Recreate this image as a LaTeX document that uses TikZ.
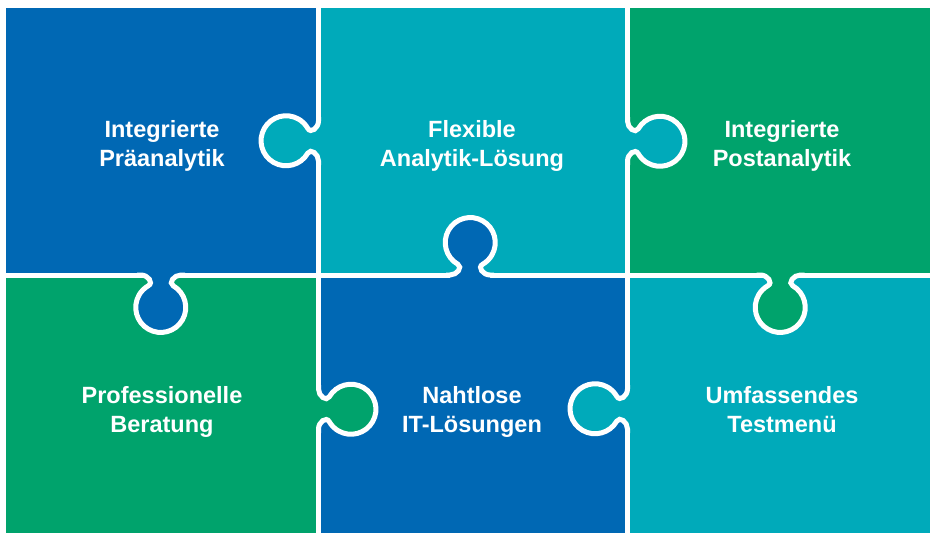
\documentclass[tikz,border=0pt]{standalone}
\usepackage{fontspec}
\setmainfont{Liberation Sans}
\usepackage{tikz}

\definecolor{pblue}{RGB}{0,104,180}
\definecolor{pteal}{RGB}{0,170,186}
\definecolor{pgreen}{RGB}{0,163,108}

% knob: seam point, direction it points to, colour of the piece it belongs to
\newcommand\knob[4]{%
  \begin{scope}[shift={(#1,#2)}, rotate=#3]
    \fill[#4] (-3,-20) -- (0,-20) .. controls (0,-13) and (7.8,-7.05) .. (10.8,-12.25)
      arc[start angle=-150, end angle=150, radius=25]
      .. controls (7.8,7.05) and (0,13) .. (0,20) -- (-3,20) -- cycle;
    \draw[seamline] (0,-24) -- (0,-20) .. controls (0,-13) and (7.8,-7.05) .. (10.8,-12.25)
      arc[start angle=-150, end angle=150, radius=25]
      .. controls (7.8,7.05) and (0,13) .. (0,20) -- (0,24);
  \end{scope}}

\begin{document}
\begin{tikzpicture}[x=1pt, y=-1pt,
    seamline/.style={white, line width=5pt},
    piecetext/.style={white, font=\fontsize{23.5}{29}\selectfont\bfseries,
      align=center, text depth=5pt}]
  \useasboundingbox (0,0) rectangle (930,533);
  % pieces
  \fill[pblue]  (6,8) rectangle (318.5,275);
  \fill[pteal]  (318.5,8) rectangle (627.5,275);
  \fill[pgreen] (627.5,8) rectangle (930,275);
  \fill[pgreen] (6,275) rectangle (318.5,533);
  \fill[pblue]  (318.5,275) rectangle (627.5,533);
  \fill[pteal]  (627.5,275) rectangle (930,533);
  % seams
  \draw[seamline] (318.5,8) -- (318.5,533);
  \draw[seamline] (627.5,8) -- (627.5,533);
  \draw[seamline] (6,275) -- (930,275);
  % knobs
  \knob{318.5}{141}{180}{pteal}
  \knob{627.5}{141}{0}{pteal}
  \knob{470}{275}{90}{pblue}
  \knob{161}{275}{-90}{pblue}
  \knob{780.5}{275}{-90}{pgreen}
  \knob{318.5}{409}{0}{pgreen}
  \knob{627.5}{409}{180}{pteal}
  % texts
  \node[piecetext] (pre)  at (162,146) {Integrierte\\Präanalytik};
  \node[piecetext] (flex) at (472,146) {Flexible\\Analytik-Lösung};
  \node[piecetext] (post) at (782,146) {Integrierte\\Postanalytik};
  \node[piecetext] (pro)  at (162,412) {Professionelle\\Beratung};
  \node[piecetext] (it)   at (472,412) {Nahtlose\\IT-Lösungen};
  \node[piecetext] (test) at (782,412) {Umfassendes\\Testmenü};
\end{tikzpicture}
\end{document}
